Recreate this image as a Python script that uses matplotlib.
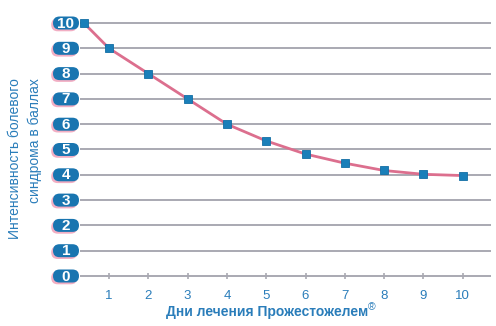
import matplotlib.pyplot as plt
from matplotlib.patches import FancyBboxPatch

days = [0.36, 1, 2, 3, 4, 5, 6, 7, 8, 9, 10]
pain = [10, 9, 8, 7, 6, 5.34, 4.82, 4.46, 4.17, 4.02, 3.97]
y_levels = list(range(0, 11))
x_ticks = list(range(1, 11))

ylab = 'Интенсивность болевого\nсиндрома в баллах'
xlab = 'Дни лечения Прожестожелем'

blue = '#1975b0'
txt_blue = '#2a7dba'
pink = '#dc6f8e'
grid_c = '#a9a9b2'

plt.rcParams['font.family'] = ['Liberation Sans Narrow', 'Liberation Sans', 'DejaVu Sans']

fig = plt.figure(figsize=(4.96, 3.26), dpi=100)
ax = fig.add_axes([0, 0, 1, 1])
# pixel -> data: x = 1 + (px-109)/39.3, y = (276-py)/25.3
ax.set_xlim(1 - 109 / 39.3, 1 + (496 - 109) / 39.3)
ax.set_ylim((276 - 326) / 25.3, 276 / 25.3)
ax.axis('off')

ax.hlines(y_levels, 1 + (80 - 109) / 39.3, 1 + (491 - 109) / 39.3,
          color=grid_c, lw=1.4, zorder=1)
ax.vlines(x_ticks, -0.13, 0.13, color=grid_c, lw=1.2, zorder=1)
for d in x_ticks:
    ax.text(d, -0.8, str(d), ha='center', va='center', color=txt_blue, fontsize=9.5)

# pills for y labels
asp = 39.3 / 25.3
w, h = 26 / 39.3, 13 / 25.3
cx = 1 + (66 - 109) / 39.3
for v in y_levels:
    for dx, dy, col in [(-1.8 / 39.3, -1.8 / 25.3, '#f2aec3'), (0, 0, blue)]:
        p = FancyBboxPatch((cx - w / 2 + dx, v - h / 2 + dy), w, h,
                           boxstyle='round,pad=0,rounding_size=%f' % (6.5 / 39.3),
                           mutation_aspect=asp, fc=col, ec='none', zorder=3)
        ax.add_patch(p)
    ax.text(cx, v - 0.02, str(v), ha='center', va='center', color='white',
            fontsize=11, fontweight='bold', zorder=4)

ax.plot(days, pain, color=pink, lw=2, zorder=5)
ax.plot(days, pain, ls='none', marker='s', ms=6.2, mfc='#1a7fb9', mec='#136ea5',
        mew=0.6, zorder=6)

fig.text(25 / 496, 1 - 78 / 326, ylab, rotation=90, ha='center', va='top',
         multialignment='right', color=txt_blue, fontsize=10, linespacing=1.4)
t = fig.text(166 / 496, 1 - 312 / 326, xlab, ha='left', va='center',
             color=txt_blue, fontsize=10, fontweight='bold')
fig.text(368 / 496, 1 - 307 / 326, '®', ha='left', va='center',
         color=txt_blue, fontsize=7.5)

fig.savefig('out.png', dpi=100)
